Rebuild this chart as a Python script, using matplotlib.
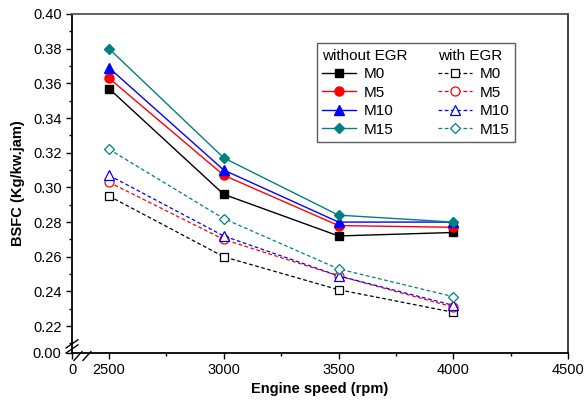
"""
bsfc_chart.py
BSFC vs engine speed, with and without EGR (broken axes look).
"""

import matplotlib
matplotlib.use("Agg")
import matplotlib.pyplot as plt
from matplotlib.lines import Line2D
from matplotlib.ticker import FixedLocator

plt.rcParams.update({
    "font.family": ["Liberation Sans", "DejaVu Sans"],
    "font.size": 10.5,
    "axes.linewidth": 1.3,
})

# data
speed = [2500, 3000, 3500, 4000]
fuels = ["M0", "M5", "M10", "M15"]

bsfc_no_egr = {
    "M0": [0.357, 0.296, 0.272, 0.274],
    "M5": [0.363, 0.307, 0.278, 0.277],
    "M10": [0.369, 0.310, 0.280, 0.280],
    "M15": [0.380, 0.317, 0.284, 0.280],
}
bsfc_egr = {
    "M0": [0.295, 0.260, 0.241, 0.228],
    "M5": [0.303, 0.270, 0.249, 0.231],
    "M10": [0.307, 0.272, 0.249, 0.232],
    "M15": [0.322, 0.282, 0.253, 0.237],
}

y_ticks = [0.22, 0.24, 0.26, 0.28, 0.30, 0.32, 0.34, 0.36, 0.38, 0.40]
x_ticks = [2500, 3000, 3500, 4000, 4500]

# style
COLORS = {"M0": "black", "M5": "red", "M10": "blue", "M15": "#008080"}
MARKERS = {"M0": "s", "M5": "o", "M10": "^", "M15": "D"}
MSIZE = {"M0": 6, "M5": 6.5, "M10": 7, "M15": 5.5}

# broken-axis stand-ins: bottom/left edge shows "0.00" / "0"
Y_LOW, Y_HIGH = 0.2045, 0.40
X_LOW, X_HIGH = 2339, 4500

fig = plt.figure(figsize=(5.87, 4.0), dpi=100)
ax = fig.add_axes([0.1227, 0.1175, 0.845, 0.8475])

handles_a, handles_b = [], []
for f in fuels:
    l1, = ax.plot(speed, bsfc_no_egr[f], color=COLORS[f], marker=MARKERS[f],
                  markersize=MSIZE[f], lw=1.0, label=f)
    l2, = ax.plot(speed, bsfc_egr[f], color=COLORS[f], marker=MARKERS[f],
                  markersize=MSIZE[f], markerfacecolor="white",
                  markeredgewidth=0.9, lw=0.9, ls=(0, (3, 2)), label=f)
    handles_a.append(l1)
    handles_b.append(l2)

ax.set_xlim(X_LOW, X_HIGH)
ax.set_ylim(Y_LOW, Y_HIGH)

ax.set_yticks([Y_LOW] + y_ticks)
ax.set_yticklabels(["0.00"] + [f"{v:.2f}" for v in y_ticks])
ax.yaxis.set_minor_locator(FixedLocator([0.21] + [v + 0.01 for v in y_ticks[:-1]]))
ax.set_xticks([X_LOW] + x_ticks)
ax.set_xticklabels(["0"] + [str(v) for v in x_ticks])
ax.xaxis.set_minor_locator(FixedLocator([2750, 3250, 3750, 4250]))

ax.tick_params(which="major", direction="out", length=4, width=1.0)
ax.tick_params(which="minor", direction="out", length=2.5, width=1.0)
ax.tick_params(top=False, right=False)
ax.spines["top"].set_color("#555555")
ax.spines["right"].set_color("#333333")

ax.set_xlabel("Engine speed (rpm)", fontweight="bold", labelpad=3)
ax.set_ylabel("BSFC (Kg/kw.jam)", fontweight="bold", labelpad=6)

# break marks
brk = dict(color="black", lw=1.0, clip_on=False, transform=ax.transAxes)
for dy in (0.012, 0.027):
    ax.plot([-0.012, 0.012], [dy - 0.012, dy + 0.012], **brk)
for dx in (0.012, 0.03):
    ax.plot([dx - 0.008, dx + 0.008], [-0.022, 0.004], **brk)

# legend with column headers
blank_a = Line2D([], [], visible=False)
blank_b = Line2D([], [], visible=False)
leg = ax.legend([blank_a] + handles_a + [blank_b] + handles_b,
                ["without EGR"] + fuels + ["with EGR"] + fuels,
                ncol=2, loc="upper left", bbox_to_anchor=(0.494, 0.914),
                fontsize=11, frameon=True, fancybox=False, edgecolor="#333333",
                handlelength=2.2, handletextpad=0.5, columnspacing=2.0,
                labelspacing=0.3, borderpad=0.35, borderaxespad=0)
leg.get_frame().set_linewidth(1.0)

# header rows: drop the handle box so the text starts at the column edge
for col in leg._legend_handle_box.get_children():
    header = col.get_children()[0]
    header.get_children()[0].width = 0
    header.sep = 0

fig.savefig("out.png", dpi=100)
